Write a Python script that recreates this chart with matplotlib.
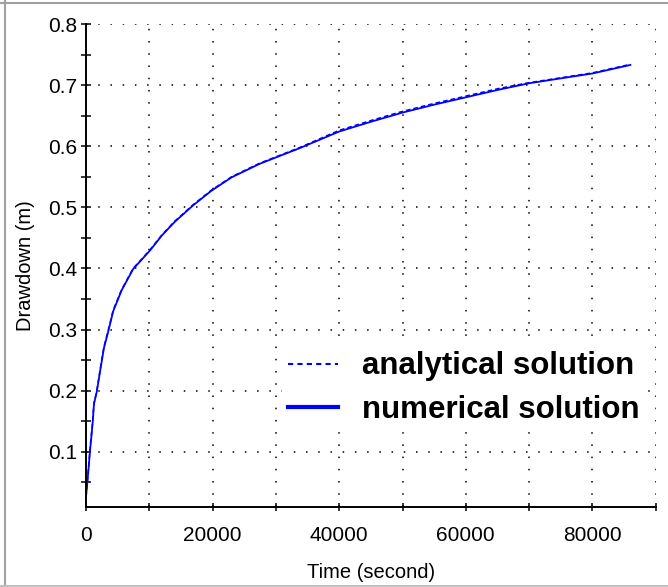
import numpy as np
import matplotlib.pyplot as plt
from matplotlib.lines import Line2D
from matplotlib.ticker import MultipleLocator

plt.rcParams['font.family'] = ['Liberation Sans', 'DejaVu Sans']

# Drawdown readings (m) against time (s)
time_s = [0, 370, 630, 1050, 1260, 1680, 2310, 2840, 3520, 4300, 5620, 7450,
          10080, 12000, 14000, 16900, 19800, 23000, 27400, 33800, 40000,
          45000, 50000, 55000, 60000, 65000, 70000, 75000, 80000, 86000]
analytical = [0.026, 0.070, 0.103, 0.149, 0.180, 0.198, 0.239, 0.272, 0.299,
              0.332, 0.365, 0.400, 0.430, 0.455, 0.477, 0.504, 0.528, 0.550,
              0.572, 0.598, 0.626, 0.642, 0.657, 0.670, 0.682, 0.694, 0.704,
              0.712, 0.720, 0.734]
numerical = [0.026, 0.068, 0.101, 0.147, 0.178, 0.197, 0.237, 0.270, 0.297,
             0.330, 0.364, 0.399, 0.429, 0.454, 0.476, 0.503, 0.527, 0.549,
             0.571, 0.597, 0.624, 0.640, 0.655, 0.668, 0.680, 0.692, 0.703,
             0.711, 0.719, 0.733]

W, H = 668, 587
fig = plt.figure(figsize=(W / 100, H / 100), dpi=100)
ax = fig.add_axes([86 / W, 1 - 507 / H, (655.7 - 86) / W, (507 - 24) / H])

ax.plot(time_s, analytical, color='blue', lw=1.1, ls=(0, (3, 2)))
ax.plot(time_s, numerical, color='blue', lw=1.3)

ax.set_xlim(0, 90000)
ax.set_ylim(0.0095, 0.8)

ax.xaxis.set_major_locator(MultipleLocator(20000))
ax.xaxis.set_minor_locator(MultipleLocator(10000))
ax.yaxis.set_major_locator(MultipleLocator(0.1))
ax.yaxis.set_minor_locator(MultipleLocator(0.05))
ax.set_yticks(np.arange(0.1, 0.81, 0.1))
ax.set_yticklabels([f"{v:.1f}" for v in np.arange(0.1, 0.81, 0.1)])

ax.tick_params(which='both', direction='inout', length=7, width=1.1,
               color='black', labelsize=15, pad=3)
ax.tick_params(axis='x', which='both', length=6, pad=11)

grid_style = dict(color='black', lw=1.1, ls=(0, (1, 7)))
ax.grid(True, which='both', axis='x', **grid_style)
ax.grid(True, which='major', axis='y', **grid_style)

for side in ['top', 'right']:
    ax.spines[side].set_visible(False)
for side in ['left', 'bottom']:
    ax.spines[side].set_linewidth(1.4)

ax.set_xlabel('Time (second)', fontsize=14.5, labelpad=13)
ax.set_ylabel('Drawdown (m)', fontsize=14.5, labelpad=9)

handles = [Line2D([], [], color='blue', lw=1.5, ls=(0, (2.5, 2))),
           Line2D([], [], color='blue', lw=3)]
leg = ax.legend(handles, ['analytical solution', 'numerical solution'],
                loc='center left', bbox_to_anchor=((282 - 86) / (655.7 - 86), (507 - 388) / (507 - 24)),
                frameon=True, framealpha=1, edgecolor='none', facecolor='white',
                prop={'weight': 'bold', 'size': 22.5}, handlelength=1.6,
                handletextpad=0.75, labelspacing=0.42, borderpad=0.2,
                borderaxespad=0)

# window frame
fig.add_artist(Line2D([5 / W, 5 / W], [0, 1], transform=fig.transFigure, color='#a0a0a0', lw=1.5))
fig.add_artist(Line2D([0, 1], [1 - 3 / H, 1 - 3 / H], transform=fig.transFigure, color='#a0a0a0', lw=1.5))
fig.add_artist(Line2D([0, 1], [1.5 / H, 1.5 / H], transform=fig.transFigure, color='#c0c0c0', lw=1.5))

fig.savefig('out.png', dpi=100)
